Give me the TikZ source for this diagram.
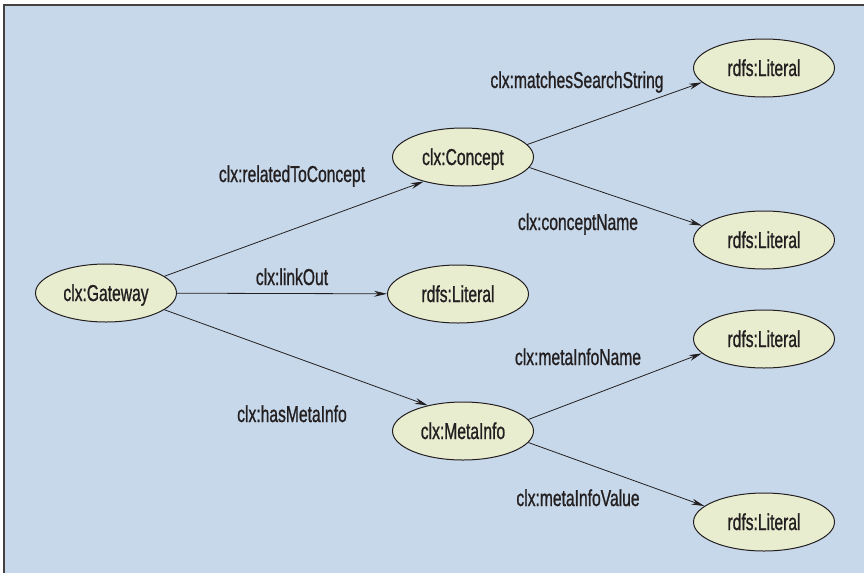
\documentclass[tikz,border=0pt]{standalone}
\usepackage{fontspec}
\setmainfont{Liberation Sans}[FakeStretch=0.68,FakeBold=0.9]
\usepackage{xcolor}
\usetikzlibrary{arrows.meta,shapes.geometric}

\definecolor{bgblue}{RGB}{199,216,234}
\definecolor{nodefill}{RGB}{233,237,208}
\definecolor{inkgray}{RGB}{35,31,32}

\tikzset{
  cls/.style={ellipse,draw=inkgray,fill=nodefill,line width=1pt,
    minimum width=141pt,minimum height=58pt,inner sep=0pt,
    text height=16pt,text depth=0pt,text=inkgray,
    font=\fontsize{23}{26}\selectfont},
  prop/.style={anchor=base,inner sep=0pt,text=inkgray,
    font=\fontsize{23}{26}\selectfont},
  rel/.style={draw=inkgray,line width=0.8pt,-{Stealth[length=13pt,width=6pt]}}
}

\begin{document}
\begin{tikzpicture}[x=1pt,y=-1pt]
    \useasboundingbox (0,0) rectangle (864,573);
    % the panel
    \fill[bgblue] (4,5) rectangle (864,573);
    \draw[inkgray!85,line width=1.5pt] (4,573) -- (4,5) -- (864,5);
    % classes
    \node[cls] (gw) at (106,293) {clx:Gateway};
    \node[cls] (cpt) at (463,157) {clx:Concept};
    \node[cls] (meta) at (463,431) {clx:MetaInfo};
    \node[cls] (litm) at (458,294) {rdfs:Literal};
    \node[cls] (lita) at (764,68) {rdfs:Literal};
    \node[cls] (litb) at (764,240) {rdfs:Literal};
    \node[cls] (litc) at (764,339) {rdfs:Literal};
    \node[cls] (litd) at (764,522) {rdfs:Literal};
    % properties
    \draw[rel] (gw.16) -- (cpt.212);
    \draw[rel] (gw) -- (litm);
    \draw[rel] (gw.-16) -- (meta.144);
    \draw[rel] (cpt.11) -- (lita.193);
    \draw[rel] (cpt.-9) -- (litb.167);
    \draw[rel] (meta.10) -- (litc.193);
    \draw[rel] (meta.-10) -- (litd.165);
    % labels
    \node[prop] (prel) at (292,182) {clx:relatedToConcept};
    \node[prop] (plink) at (292,285) {clx:linkOut};
    \node[prop] (phas) at (292,422) {clx:hasMetaInfo};
    \node[prop] (pmatch) at (577,88) {clx:matchesSearchString};
    \node[prop] (pname) at (578,230) {clx:conceptName};
    \node[prop] (pminame) at (578,365) {clx:metaInfoName};
    \node[prop] (pmival) at (578,506) {clx:metaInfoValue};
\end{tikzpicture}
\end{document}
